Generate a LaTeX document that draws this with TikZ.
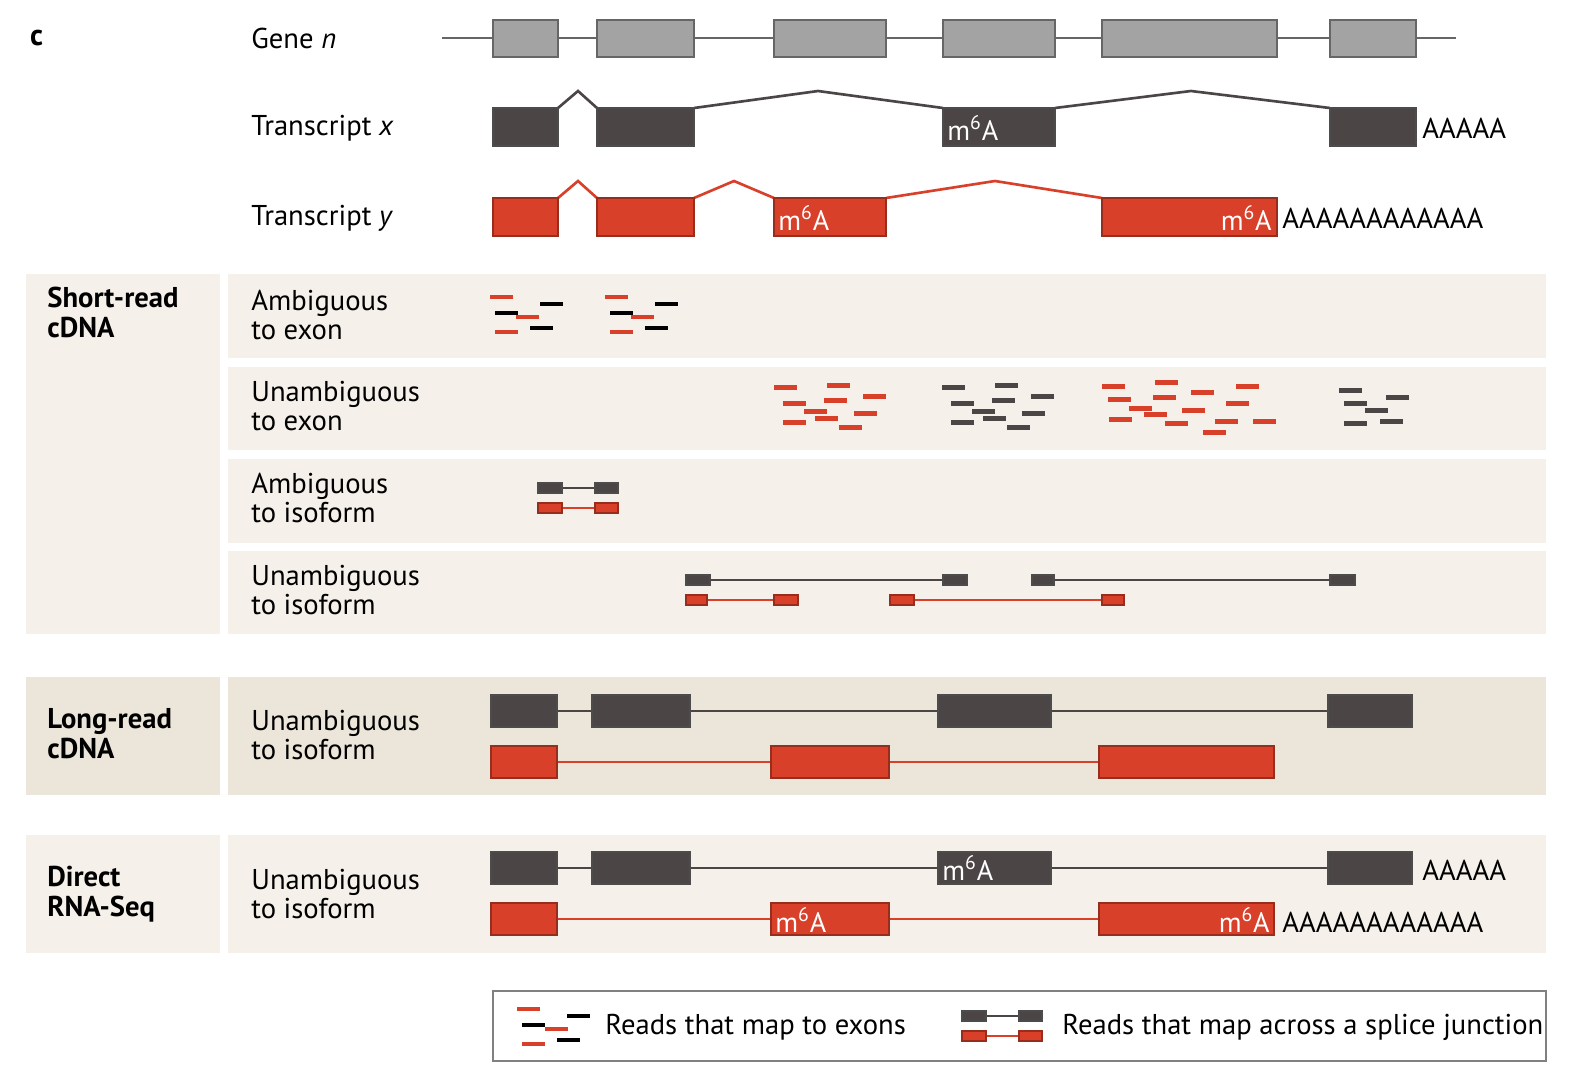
\documentclass[tikz,border=0pt]{standalone}
\usepackage{fontspec}
\setmainfont{PT Sans}
\begin{document}
\definecolor{lg}{HTML}{A3A3A3}
\definecolor{dg}{HTML}{4B4645}
\definecolor{rd}{HTML}{D8402A}
\definecolor{band}{HTML}{F5F0E9}
\definecolor{bandd}{HTML}{ECE5DA}
\begin{tikzpicture}[x=0.02cm,y=-0.02cm,
  lab/.style={anchor=west,align=left,font=\fontsize{16.3}{17}\selectfont,inner sep=0pt},
  hd/.style={anchor=north west,align=left,font=\bfseries\fontsize{16.3}{17}\selectfont,inner sep=0pt},
  gex/.style={fill=lg,draw=black!60,line width=0.6pt},
  dex/.style={fill=dg,draw=black!70,line width=0.6pt},
  rex/.style={fill=rd,draw=rd!70!black,line width=0.6pt},
  dl/.style={draw=dg,line width=1.5pt},
  rl/.style={draw=rd,line width=1.5pt},
  wt/.style={text=white,anchor=west,font=\fontsize{16}{16}\selectfont,inner sep=0pt}]
\useasboundingbox (0,0) rectangle (1569,1080);
\fill[white] (0,0) rectangle (1569,1080);
% bands
\fill[band] (26,274) rectangle (220,634);
\foreach \a/\b in {274/358,367/450,459/543,551/634} \fill[band] (228,\a) rectangle (1546,\b);
\fill[bandd] (26,677) rectangle (220,795);
\fill[bandd] (228,677) rectangle (1546,795);
\fill[band] (26,835) rectangle (220,953);
\fill[band] (228,835) rectangle (1546,953);
% labels
\node[anchor=west,font=\bfseries\fontsize{17}{18}\selectfont] (c) at (24,38) {c};
\node[lab] (gn) at (251,38) {Gene \textit{n}};
\node[lab] (tx) at (251,128) {Transcript \textit{x}};
\node[lab] (ty) at (251,218) {Transcript \textit{y}};
\node[hd] (h1) at (47,287) {Short-read\\cDNA};
\node[hd] (h2) at (47,708) {Long-read\\cDNA};
\node[hd] (h3) at (47,866) {Direct\\RNA-Seq};
\node[lab] (l1) at (251,315) {Ambiguous\\to exon};
\node[lab] (l2) at (251,406) {Unambiguous\\to exon};
\node[lab] (l3) at (251,498) {Ambiguous\\to isoform};
\node[lab] (l4) at (251,590) {Unambiguous\\to isoform};
\node[lab] (l5) at (251,735) {Unambiguous\\to isoform};
\node[lab] (l6) at (251,894) {Unambiguous\\to isoform};
% gene n
\draw[draw=black!60,line width=1.5pt] (442,38) -- (1456,38);
\foreach \a/\b in {493/558,597/694,774/886,943/1055,1102/1277,1330/1416} \draw[gex] (\a,20) rectangle (\b,57);
% transcript x
\draw[dl] (558,108)--(578,91)--(597,108) (694,108)--(818,91)--(943,108) (1055,108)--(1191,91)--(1330,108);
\foreach \a/\b in {493/558,597/694,943/1055,1330/1416} \draw[dex] (\a,108) rectangle (\b,146);
\node[wt] (mx) at (947,128) {m\textsuperscript{6}A};
\node[lab] (ax) at (1422,128) {AAAAA};
% transcript y
\draw[rl] (558,198)--(578,181)--(597,198) (694,198)--(734,181)--(774,198) (886,198)--(995,181)--(1102,198);
\foreach \a/\b in {493/558,597/694,774/886,1102/1277} \draw[rex] (\a,198) rectangle (\b,236);
\node[wt] (my1) at (778,218) {m\textsuperscript{6}A};
\node[wt,anchor=east] (my2) at (1272,218) {m\textsuperscript{6}A};
\node[lab] (ay) at (1282,218) {AAAAAAAAAAAA};
% ambiguous to exon
\foreach \dx in {0,115}{
 \fill[rd] (490+\dx,295) rectangle ++(23,4);
 \fill[black] (540+\dx,302) rectangle ++(23,4);
 \fill[black] (495+\dx,311) rectangle ++(23,4);
 \fill[rd] (516+\dx,315) rectangle ++(23,4);
 \fill[rd] (495+\dx,330) rectangle ++(23,4);
 \fill[black] (530+\dx,326) rectangle ++(23,4);}
% unambiguous to exon
\foreach \x/\y in {785/387,838/385,874/396,794/403,835/400,815/411,865/413,826/418,794/422,850/427} {
  \fill[rd] (\x-11,\y-2.5) rectangle ++(23,5);
  \fill[dg] (\x+168-11,\y-2.5) rectangle ++(23,5);}
\foreach \x/\y in {1113/386,1166/382,1247/386,1119/399,1164/397,1202/392,1237/403,1140/408,1155/414,1193/410,1120/419,1176/423,1226/421,1264/421,1214/432}
  \fill[rd] (\x-11,\y-2.5) rectangle ++(23,5);
\foreach \x/\y in {1350/390,1397/397,1355/403,1376/410,1355/423,1391/421}
  \fill[dg] (\x-11,\y-2.5) rectangle ++(23,5);
% ambiguous to isoform
\draw[dl,line width=1.2pt] (562,488)--(595,488);
\draw[dex] (538,483) rectangle (562,493); \draw[dex] (595,483) rectangle (618,493);
\draw[rl,line width=1.2pt] (562,508)--(595,508);
\draw[rex] (538,503) rectangle (562,513); \draw[rex] (595,503) rectangle (618,513);
% unambiguous to isoform
\draw[dl,line width=1.2pt] (710,580)--(943,580) (1054,580)--(1330,580);
\foreach \a/\b in {686/710,943/967,1032/1054,1330/1355} \draw[dex] (\a,575) rectangle (\b,585);
\draw[rl,line width=1.2pt] (707,600)--(774,600) (914,600)--(1102,600);
\foreach \a/\b in {686/707,774/798,890/914,1102/1124} \draw[rex] (\a,595) rectangle (\b,605);
% long read
\draw[dl] (557,711)--(1328,711);
\foreach \a/\b in {491/557,592/690,938/1051,1328/1412} \draw[dex] (\a,695) rectangle (\b,727);
\draw[rl] (557,762)--(1099,762);
\foreach \a/\b in {491/557,771/889,1099/1274} \draw[rex] (\a,746) rectangle (\b,778);
% direct
\draw[dl] (557,868)--(1328,868);
\foreach \a/\b in {491/557,592/690,938/1051,1328/1412} \draw[dex] (\a,852) rectangle (\b,884);
\draw[rl] (557,919)--(1099,919);
\foreach \a/\b in {491/557,771/889,1099/1274} \draw[rex] (\a,903) rectangle (\b,935);
\node[wt] (m1) at (942,868) {m\textsuperscript{6}A};
\node[lab] (a1) at (1422,870) {AAAAA};
\node[wt] (m2) at (775,920) {m\textsuperscript{6}A};
\node[wt,anchor=east] (m3) at (1270,920) {m\textsuperscript{6}A};
\node[lab] (a2) at (1282,922) {AAAAAAAAAAAA};
% legend
\draw[draw=black!50,line width=0.8pt] (493,991) rectangle (1546,1061);
\fill[rd] (517,1007) rectangle ++(23,4);
\fill[black] (567,1014) rectangle ++(23,4);
\fill[black] (522,1023) rectangle ++(23,4);
\fill[rd] (545,1027) rectangle ++(23,4);
\fill[rd] (522,1042) rectangle ++(23,4);
\fill[black] (557,1038) rectangle ++(23,4);
\node[lab] (lg1) at (605,1027) {Reads that map to exons};
\draw[dl,line width=1.2pt] (986,1016)--(1019,1016);
\draw[dex] (962,1011) rectangle (986,1021); \draw[dex] (1019,1011) rectangle (1042,1021);
\draw[rl,line width=1.2pt] (986,1036)--(1019,1036);
\draw[rex] (962,1031) rectangle (986,1041); \draw[rex] (1019,1031) rectangle (1042,1041);
\node[lab] (lg2) at (1062,1027) {Reads that map across a splice junction};
\end{tikzpicture}
\end{document}
